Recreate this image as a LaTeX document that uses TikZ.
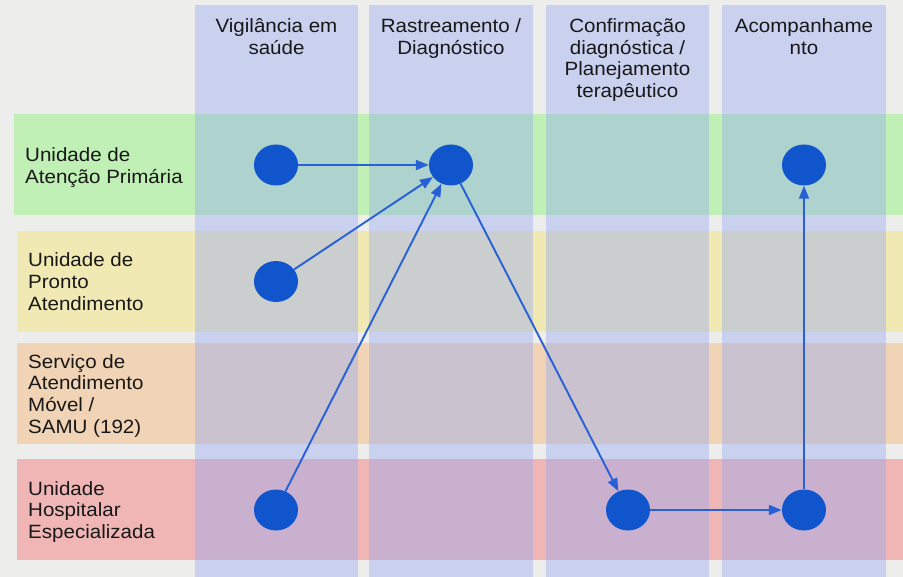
\documentclass[tikz,border=0pt]{standalone}
\usepackage{fontspec}
\setmainfont{Liberation Sans}[FakeStretch=1.07]
\usetikzlibrary{shapes.geometric,arrows.meta}
\definecolor{bgc}{RGB}{237,237,235}
\definecolor{colc}{RGB}{147,167,245}
\definecolor{rowA}{RGB}{192,240,181}
\definecolor{rowB}{RGB}{241,233,180}
\definecolor{rowC}{RGB}{240,212,181}
\definecolor{rowD}{RGB}{240,182,182}
\definecolor{dotc}{RGB}{17,85,204}
\definecolor{arrc}{RGB}{40,96,214}
\definecolor{txtc}{RGB}{24,24,24}
\begin{document}
\begin{tikzpicture}[x=1pt,y=-1pt,
  dot/.style={ellipse,fill=dotc,minimum width=44pt,minimum height=41pt,inner sep=0pt},
  flow/.style={draw=arrc,line width=1.9pt,-{Triangle[length=13pt,width=10pt]}},
  lane/.style={fill=colc,fill opacity=0.4},
  hdr/.style={anchor=north,inner sep=0pt,align=center,font=\fontsize{19.2}{21.5}\selectfont,text=txtc},
  lbl/.style={anchor=north west,inner sep=0pt,align=left,font=\fontsize{19.2}{21.7}\selectfont,text=txtc}
]
\fill[bgc] (0,0) rectangle (903,577);
\useasboundingbox (0,0) rectangle (903,577);
% rows
\fill[rowA] (14,114) rectangle (903,215);
\fill[rowB] (17,231) rectangle (903,332);
\fill[rowC] (17,343) rectangle (903,444);
\fill[rowD] (17,459) rectangle (903,560);
% columns
\fill[lane] (195,5) rectangle (358,577);
\fill[lane] (369,5) rectangle (533,577);
\fill[lane] (546,5) rectangle (709,577);
\fill[lane] (722,5) rectangle (886,577);
% headers
\node[hdr] (h1) at (276.5,18.5) {Vigilância em\\saúde};
\node[hdr] (h2) at (451,18.5) {Rastreamento /\\Diagnóstico};
\node[hdr] (h3) at (627.5,18.5) {Confirmação\\diagnóstica /\\Planejamento\\terapêutico};
\node[hdr] (h4) at (804,18.5) {Acompanhame\\nto};
% row labels
\node[lbl] (r1) at (25,147.6) {Unidade de\\Atenção Primária};
\node[lbl] (r2) at (28,252.6) {Unidade de\\Pronto\\Atendimento};
\node[lbl] (r3) at (28,354) {Serviço de\\Atendimento\\Móvel /\\SAMU (192)};
\node[lbl] (r4) at (28,481) {Unidade\\Hospitalar\\Especializada};
% dots
\node[dot] (d1) at (276,165) {};
\node[dot] (d2) at (451,165) {};
\node[dot] (d3) at (804,165) {};
\node[dot] (d4) at (276,281.5) {};
\node[dot] (d5) at (276,510) {};
\node[dot] (d6) at (628,510) {};
\node[dot] (d7) at (804,510) {};
% flows
\draw[flow] (d1) -- (d2);
\draw[flow] (d4) -- (d2);
\draw[flow] (d5) -- (d2);
\draw[flow] (d2) -- (d6);
\draw[flow] (d6) -- (d7);
\draw[flow] (d7) -- (d3);
\end{tikzpicture}
\end{document}
